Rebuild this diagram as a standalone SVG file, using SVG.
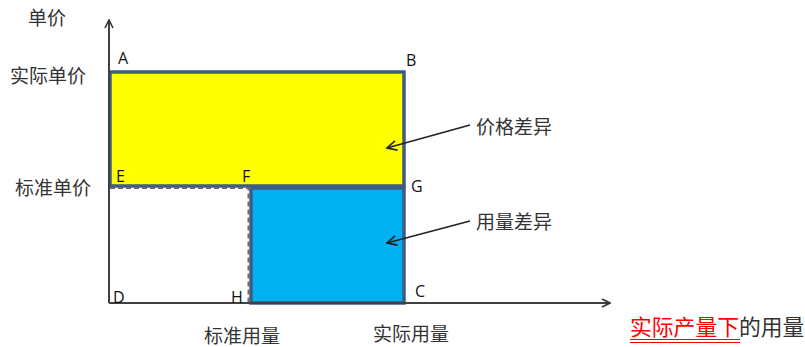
<svg xmlns="http://www.w3.org/2000/svg" width="805" height="347" viewBox="0 0 805 347">
<style>
.cjk{font-family:"Noto Sans CJK SC","Noto Sans",sans-serif;font-size:19px;fill:#333}
.lbl{font-family:"Open Sans","Liberation Sans",sans-serif;font-size:16px;fill:#111}
.axis{stroke:#404040;stroke-width:2;fill:none}
.ptr{stroke:#222;stroke-width:1.6;fill:none}
</style>
<defs>
<marker id="open" viewBox="0 0 10 10" refX="9" refY="5" markerWidth="10" markerHeight="10" markerUnits="userSpaceOnUse" orient="auto">
<path d="M1,1 L9,5 L1,9" fill="none" stroke="#333" stroke-width="1.6"/>
</marker>
<marker id="open2" viewBox="0 0 10 10" refX="9" refY="5" markerWidth="12" markerHeight="12" markerUnits="userSpaceOnUse" orient="auto">
<path d="M1,1 L9,5 L1,9" fill="none" stroke="#222" stroke-width="1.4"/>
</marker>
</defs>
<g id="price-area">
<rect x="110" y="72" width="294" height="114" fill="#ffff00" stroke="#3f5b82" stroke-width="3.5"/>
</g>
<g id="usage-area">
<rect x="251" y="188" width="153" height="115" fill="#00b0f0" stroke="#3f5b82" stroke-width="3.5"/>
</g>
<g id="standard-area">
<path d="M110,188 H248.5 V303" fill="none" stroke="#6a6a6a" stroke-width="2" stroke-dasharray="5,3"/>
</g>
<g id="connectors">
<path class="axis" d="M109,303 V20" marker-end="url(#open)"/>
<path class="axis" d="M109,303 H610" marker-end="url(#open)"/>
<path class="ptr" d="M470,125 L387,148" marker-end="url(#open2)"/>
<path class="ptr" d="M470,221 L387,243" marker-end="url(#open2)"/>
</g>
<g id="points">
<text class="lbl" x="118" y="64">A</text>
<text class="lbl" x="406" y="66">B</text>
<text class="lbl" x="116" y="182">E</text>
<text class="lbl" x="242" y="182">F</text>
<text class="lbl" x="411" y="192">G</text>
<text class="lbl" x="113" y="303">D</text>
<text class="lbl" x="231" y="303">H</text>
<text class="lbl" x="415" y="297">C</text>
</g>
<g id="axis-labels">
<text class="cjk" x="28" y="25">单价</text>
<text class="cjk" x="10" y="83">实际单价</text>
<text class="cjk" x="15" y="195">标准单价</text>
<text class="cjk" x="204" y="343">标准用量</text>
<text class="cjk" x="373" y="341">实际用量</text>
<text class="cjk" x="630" y="335" style="font-size:21.8px"><tspan fill="#ff0000">实际产量下</tspan>的用量</text>
<path d="M630,339.5 H740 M630,342.5 H740" stroke="#ff0000" stroke-width="1.2"/>
</g>
<g id="callouts">
<text class="cjk" x="476" y="134">价格差异</text>
<text class="cjk" x="476" y="229">用量差异</text>
</g>
</svg>
